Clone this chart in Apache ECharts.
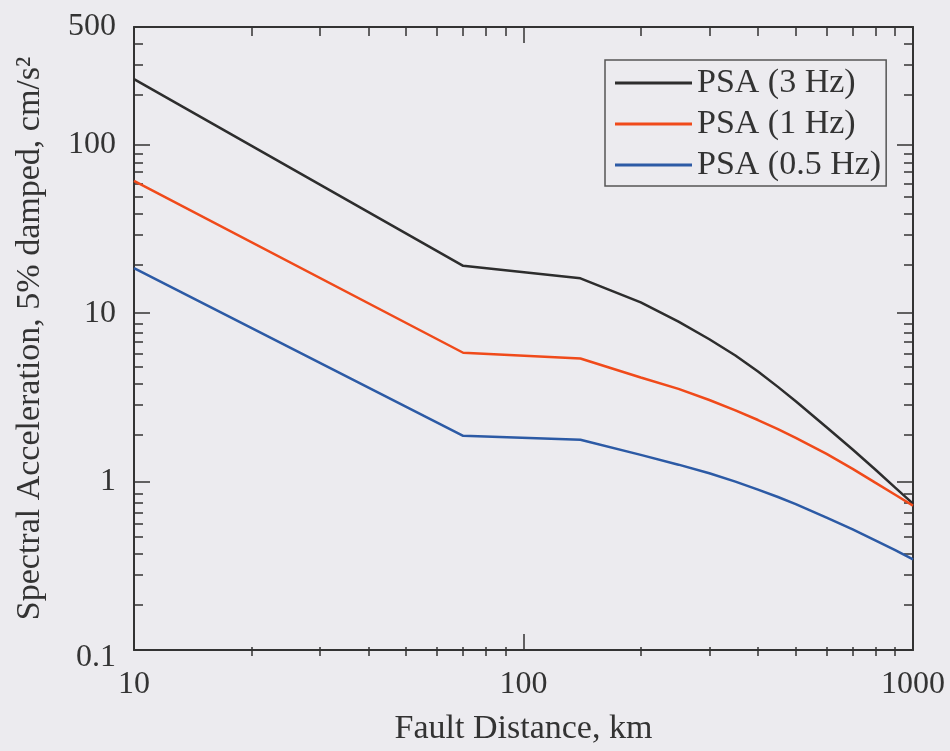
<!DOCTYPE html>
<html>
<head>
<meta charset="utf-8">
<script src="https://cdn.jsdelivr.net/npm/echarts@6/dist/echarts.min.js"></script>
<style>
html,body{margin:0;padding:0;background:#ecebef;}
#c{width:950px;height:751px;}
</style>
</head>
<body>
<div id="c"></div>
<script>
// ---- data ----
const distances = [10, 70, 140, 200, 250, 300, 350, 400, 450, 500, 600, 700, 800, 900, 1000];
const psa3Hz  = [245, 19.1, 16.1, 11.6, 8.9, 7.0, 5.6, 4.5, 3.65, 3.0, 2.1, 1.55, 1.18, 0.92, 0.74];
const psa1Hz  = [61, 5.82, 5.38, 4.15, 3.55, 3.05, 2.65, 2.32, 2.05, 1.82, 1.46, 1.19, 0.985, 0.835, 0.72];
const psa05Hz = [18.5, 1.87, 1.77, 1.44, 1.26, 1.12, 1.0, 0.895, 0.81, 0.735, 0.61, 0.52, 0.448, 0.392, 0.345];
const seriesNames = ['PSA (3 Hz)', 'PSA (1 Hz)', 'PSA (0.5 Hz)'];
const xMajorTicks = [10, 100, 1000];
const xMinorTicks = [20, 30, 40, 50, 60, 70, 80, 90, 200, 300, 400, 500, 600, 700, 800, 900];
const xTickLabels = [10, 100, 1000];
const yMajorTicks = [0.1, 1, 10, 100];
const yMinorTicks = [0.2, 0.3, 0.4, 0.5, 0.6, 0.7, 0.8, 0.9, 2, 3, 4, 5, 6, 7, 8, 9,
                     20, 30, 40, 50, 60, 70, 80, 90, 200, 300, 400];
const yTickLabels = [0.1, 1, 10, 100, 500];
const xTitle = 'Fault Distance, km';
const yTitle = 'Spectral Acceleration, 5% damped, cm/s²';

// ---- styles ----
const FONT = 'Liberation Serif';
const AX = '#333333';
const colors = ['#2d2d2d', '#f04a1a', '#2c5aa5'];
const gridRect = {left: 134, top: 27, width: 779, height: 629};
const fmt = v => String(+(+v).toPrecision(6));
const yFmt = v => (Math.abs(v - 0.1) < 1e-9 ? '{lo|' + fmt(v) + '}' : fmt(v));

function xAx(grid, pos, ticks, len, opts) {
  return Object.assign({
    gridIndex: grid, type: 'log', logBase: 10, min: 10, max: 1000, position: pos,
    axisLine: {show: true, onZero: false, lineStyle: {color: AX, width: 2}},
    axisTick: {show: true, inside: true, length: len, customValues: ticks, lineStyle: {color: AX, width: 1.5}},
    axisLabel: {show: false},
    splitLine: {show: false}, minorTick: {show: false}, minorSplitLine: {show: false}
  }, opts || {});
}
function yAx(grid, pos, ticks, len, opts) {
  return Object.assign({
    gridIndex: grid, type: 'log', logBase: 10, min: 0.1, max: 500, position: pos,
    axisLine: {show: true, onZero: false, lineStyle: {color: AX, width: 2}},
    axisTick: {show: true, inside: true, length: len, customValues: ticks, lineStyle: {color: AX, width: 1.5}},
    axisLabel: {show: false},
    splitLine: {show: false}, minorTick: {show: false}, minorSplitLine: {show: false}
  }, opts || {});
}

const chart = echarts.init(document.getElementById('c'), null, {renderer: 'canvas'});
const series = [psa3Hz, psa1Hz, psa05Hz].map((vals, i) => ({
  name: seriesNames[i], type: 'line', xAxisIndex: 0, yAxisIndex: 0,
  data: distances.map((d, j) => [d, vals[j]]),
  showSymbol: false, symbol: 'none', smooth: false, clip: true,
  lineStyle: {color: colors[i], width: 2.5},
  itemStyle: {color: colors[i]},
  z: 3
}));

chart.setOption({
  backgroundColor: '#ecebef',
  animation: false,
  grid: [Object.assign({}, gridRect), Object.assign({}, gridRect)],
  legend: {
    show: true, orient: 'vertical', left: 605, top: 60,
    data: seriesNames,
    icon: 'rect', itemWidth: 77, itemHeight: 3, itemGap: 7,
    padding: [6, 5, 4, 10],
    borderColor: '#555', borderWidth: 1.5,
    textStyle: {fontFamily: FONT, fontSize: 34, color: AX, lineHeight: 34}
  },
  xAxis: [
    xAx(0, 'bottom', xMajorTicks, 16, {
      axisLabel: {show: true, customValues: xTickLabels, formatter: fmt, margin: 19,
        fontFamily: FONT, fontSize: 32, color: AX, showMinLabel: true, showMaxLabel: true},
      name: xTitle, nameLocation: 'middle', nameGap: 62,
      nameTextStyle: {fontFamily: FONT, fontSize: 34, color: AX}
    }),
    xAx(0, 'top', xMajorTicks, 16),
    xAx(1, 'bottom', xMinorTicks, 9, {axisLine: {show: false}}),
    xAx(1, 'top', xMinorTicks, 9, {axisLine: {show: false}})
  ],
  yAxis: [
    yAx(0, 'left', yMajorTicks, 16, {
      axisLabel: {show: true, customValues: yTickLabels, formatter: yFmt, margin: 18,
        fontFamily: FONT, fontSize: 32, color: AX, showMinLabel: true, showMaxLabel: true,
        rich: {lo: {fontFamily: FONT, fontSize: 32, color: AX, padding: [16, 0, 0, 0]}}},
      name: yTitle, nameLocation: 'middle', nameGap: 87,
      nameTextStyle: {fontFamily: FONT, fontSize: 34, color: AX}
    }),
    yAx(0, 'right', yMajorTicks, 16),
    yAx(1, 'left', yMinorTicks, 9, {axisLine: {show: false}}),
    yAx(1, 'right', yMinorTicks, 9, {axisLine: {show: false}})
  ],
  series: series
});
</script>
</body>
</html>
